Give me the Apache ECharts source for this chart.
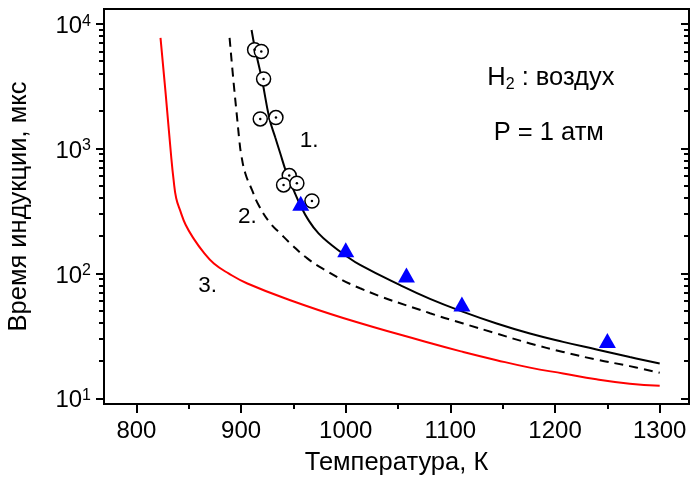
<!DOCTYPE html>
<html><head><meta charset="utf-8">
<script src="https://cdn.jsdelivr.net/npm/echarts@6/dist/echarts.min.js"></script>
<style>html,body{margin:0;padding:0;background:#fff}#c{width:691px;height:480px}</style>
</head><body><div id="c"></div>
<script>
// ---- data ----
const xMajorTicks = [800, 900, 1000, 1100, 1200, 1300];
const xMinorTicks = [850, 950, 1050, 1150, 1250];
const yMajorTicks = [10, 100, 1000, 10000];
const yMinorTicks = [20,30,40,50,60,70,80,90,200,300,400,500,600,700,800,900,2000,3000,4000,5000,6000,7000,8000,9000];

const curve1 = [[910,8900],[913.5,6200],[920,3550],[927,1750],[932.6,1230],[937.4,916],[943.1,649],[950.1,466],[956.5,353],[964.4,267],[974,209],[986.7,168],[999.4,140],[1013.7,117],[1052,80.5],[1080.5,62.5],[1112.3,49.2],[1144.2,39.7],[1176,33],[1207.7,28.3],[1239.6,24.6],[1271.4,21.4],[1300,19]];
const curve2 = [[889,7700],[892.6,3550],[895.9,1860],[898.3,1172],[899.9,916],[904,634],[910.4,466],[916.7,353],[927.9,252],[937.4,209],[948.6,169],[961.3,136],[977.2,110],[1013.7,76],[1080.5,48],[1112.3,39.7],[1144.2,33],[1176,27.5],[1207.7,23.5],[1239.6,20.4],[1271.4,18.1],[1300,16]];
const curve3 = [[823,7700],[828,2700],[833,900],[835.5,560],[838,400],[842,315],[847,245],[855,188],[864,148],[874,120],[888,100],[906,83],[947,61],[997.5,44],[1080.5,27.7],[1112.3,23.5],[1144.2,20.2],[1176,17.6],[1207.7,15.8],[1239.6,14.2],[1271.4,13.1],[1300,12.6]];
const circles = [[912.9,6180],[919.3,5980],[921.5,3610],[918.3,1726],[933.3,1770],[946,607],[940.6,511],[953.3,527],[967.7,380]];
const triangles = [[957,364],[1000,155],[1058,97],[1111,57],[1250,29]];
const curveLabels = [[965,1162,'1.'],[906,283,'2.'],[868,79,'3.']];
const noteLabels = [[1196,3650,'{t|H}{sub|2}{t| : воздух}'],[1194,1321,'{t|P = 1 атм}']];

const FONT = 'Liberation Sans, Arial, sans-serif';
const X_MIN = 769, X_MAX = 1328, Y_MIN = 9, Y_MAX = 13100;

const chart = echarts.init(document.getElementById('c'));
const baseX = {type:'value', min:X_MIN, max:X_MAX, position:'bottom', splitLine:{show:false}};
const baseY = {type:'log', logBase:10, min:Y_MIN, max:Y_MAX, splitLine:{show:false}};
const lineCommon = {type:'line', smooth:0.45, showSymbol:false, z:2};
chart.setOption({
  animation:false,
  backgroundColor:'#fff',
  grid:{left:104, right:2, top:9, bottom:76, outerBoundsMode:'none', containLabel:false,
        show:true, borderColor:'#000', borderWidth:2, backgroundColor:'transparent'},
  xAxis:[
    Object.assign({}, baseX, {
      name:'Температура, К', nameLocation:'middle', nameGap:46,
      nameTextStyle:{fontFamily:FONT, fontSize:25.5, color:'#000'},
      axisLine:{onZero:false, lineStyle:{color:'#000', width:2}},
      axisTick:{customValues:xMajorTicks, length:9, lineStyle:{color:'#000', width:2}},
      axisLabel:{customValues:xMajorTicks, margin:15, fontFamily:FONT, fontSize:24, color:'#000',
        formatter:function(v){ return String(v); }}
    }),
    Object.assign({}, baseX, {
      axisLine:{show:false, onZero:false},
      axisTick:{customValues:xMinorTicks, length:5, lineStyle:{color:'#000', width:2}},
      axisLabel:{show:false}
    })
  ],
  yAxis:[
    Object.assign({}, baseY, {
      position:'left',
      name:'Время индукции, мкс', nameLocation:'middle', nameGap:72,
      nameTextStyle:{fontFamily:FONT, fontSize:25.5, color:'#000'},
      axisLine:{lineStyle:{color:'#000', width:2}},
      axisTick:{customValues:yMajorTicks, length:8, lineStyle:{color:'#000', width:2}},
      axisLabel:{customValues:yMajorTicks, margin:13, color:'#000',
        formatter:function(v){ return '{b|10}{s|' + Math.round(Math.log10(v)) + '}'; },
        rich:{b:{fontFamily:FONT, fontSize:24, color:'#000', verticalAlign:'bottom', padding:[5,0,0,0]},
              s:{fontFamily:FONT, fontSize:16, color:'#000', verticalAlign:'bottom', padding:[0,0,9,0]}}}
    }),
    Object.assign({}, baseY, {
      position:'left',
      axisLine:{show:false},
      axisTick:{customValues:yMinorTicks, length:5, lineStyle:{color:'#000', width:2}},
      axisLabel:{show:false}
    }),
    Object.assign({}, baseY, {
      position:'right',
      axisLine:{lineStyle:{color:'#000', width:2}},
      axisTick:{customValues:yMajorTicks, inside:true, length:8, lineStyle:{color:'#000', width:2}},
      axisLabel:{show:false}
    }),
    Object.assign({}, baseY, {
      position:'right',
      axisLine:{show:false},
      axisTick:{customValues:yMinorTicks, inside:true, length:5, lineStyle:{color:'#000', width:2}},
      axisLabel:{show:false}
    })
  ],
  series:[
    Object.assign({}, lineCommon, {data:curve3, lineStyle:{color:'#ff0000', width:2}}),
    Object.assign({}, lineCommon, {data:curve2, lineStyle:{color:'#000', width:2, type:[9,6]}}),
    Object.assign({}, lineCommon, {data:curve1, lineStyle:{color:'#000', width:2}}),
    {type:'scatter', data:circles, symbol:'circle', symbolSize:14, itemStyle:{color:'#fff', borderColor:'#000', borderWidth:1.5, opacity:1}, z:3},
    {type:'scatter', data:circles, symbol:'circle', symbolSize:2.5, itemStyle:{color:'#000', opacity:1}, z:4},
    {type:'scatter', data:triangles, symbol:'triangle', symbolSize:[17,15], itemStyle:{color:'#0000ff', opacity:1}, z:5},
    {type:'scatter', data:curveLabels, symbolSize:1, itemStyle:{color:'rgba(0,0,0,0)', opacity:1}, z:6,
      label:{show:true, position:'inside', formatter:function(p){return p.data[2];}, fontFamily:FONT, fontSize:22.5, color:'#000'}},
    {type:'scatter', data:noteLabels, symbolSize:1, itemStyle:{color:'rgba(0,0,0,0)', opacity:1}, z:6,
      label:{show:true, position:'inside', formatter:function(p){return p.data[2];},
        rich:{t:{fontFamily:FONT, fontSize:25.5, color:'#000'}, sub:{fontFamily:FONT, fontSize:16, color:'#000', padding:[12,0,0,0]}}}}
  ]
});
</script></body></html>
